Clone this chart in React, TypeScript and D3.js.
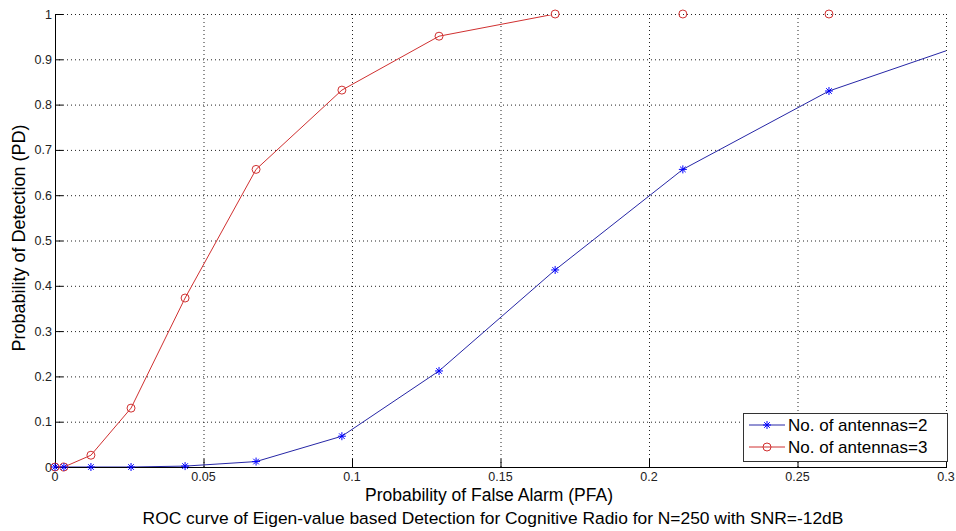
import React from "react";
import * as d3 from "d3";

// PFA values shared by both curves
const pfa = [0, 0.003, 0.0121, 0.0256, 0.0438, 0.0677, 0.0966, 0.1293, 0.1684, 0.2114, 0.2606, 0.325];
const pdTwo = [0, 0, 0, 0, 0.002, 0.012, 0.068, 0.212, 0.435, 0.657, 0.83, 0.975];
const pdThree = [0, 0, 0.026, 0.13, 0.373, 0.657, 0.832, 0.951, 1, 1, 1];

const xTicks = [0, 0.05, 0.1, 0.15, 0.2, 0.25, 0.3];
const yTicks = [0, 0.1, 0.2, 0.3, 0.4, 0.5, 0.6, 0.7, 0.8, 0.9, 1];
const legendLabels = ["No. of antennas=2", "No. of antennas=3"];

const W = 956;
const H = 531;
const m = { left: 55, right: 946, top: 14, bottom: 467 };
const font = "'Liberation Sans', Arial, Helvetica, sans-serif";

const blueLine = "#2626a6";
const blueMark = "#0000ff";
const redLine = "#d03030";

const App = () => {
  const x = d3.scaleLinear().domain([0, 0.3]).range([m.left, m.right]);
  const y = d3.scaleLinear().domain([0, 1]).range([m.bottom, m.top]);

  const seriesTwo = pdTwo.map((v, i) => [pfa[i], v] as [number, number]);
  const seriesThree = pdThree.map((v, i) => [pfa[i], v] as [number, number]);

  const line = d3
    .line<[number, number]>()
    .x((d) => x(d[0]))
    .y((d) => y(d[1]));

  const star = (cx: number, cy: number, key: string | number, r = 4) => (
    <g key={key} stroke={blueMark} strokeWidth={1}>
      <line x1={cx - r} y1={cy} x2={cx + r} y2={cy} />
      <line x1={cx} y1={cy - r} x2={cx} y2={cy + r} />
      <line x1={cx - r * 0.7} y1={cy - r * 0.7} x2={cx + r * 0.7} y2={cy + r * 0.7} />
      <line x1={cx - r * 0.7} y1={cy + r * 0.7} x2={cx + r * 0.7} y2={cy - r * 0.7} />
    </g>
  );

  const inView = (d: [number, number]) => d[0] <= 0.3;

  return (
    <svg
      width={W}
      height={H}
      style={{ position: "absolute", left: 0, top: 0, background: "#fff" }}
      fontFamily={font}
    >
      <defs>
        <clipPath id="plotClip">
          <rect x={m.left} y={m.top + 1} width={m.right - m.left} height={m.bottom - m.top - 1} />
        </clipPath>
      </defs>
      <rect x={0} y={0} width={W} height={H} fill="#fff" />

      {/* grid */}
      <g stroke="#222" strokeWidth={1} strokeDasharray="1,3">
        {xTicks.slice(1).map((t) => (
          <line key={"gx" + t} x1={x(t) + 0.5} x2={x(t) + 0.5} y1={m.top} y2={m.bottom} />
        ))}
        {yTicks.slice(1).map((t) => (
          <line key={"gy" + t} x1={m.left} x2={m.right} y1={y(t) + 0.5} y2={y(t) + 0.5} />
        ))}
      </g>

      {/* axes */}
      <g stroke="#000" strokeWidth={1}>
        <line x1={m.left + 0.5} x2={m.left + 0.5} y1={m.top} y2={m.bottom + 0.5} />
        <line x1={m.left} x2={m.right + 1} y1={m.bottom + 0.5} y2={m.bottom + 0.5} />
        {xTicks.map((t) => (
          <line key={"tx" + t} x1={x(t) + 0.5} x2={x(t) + 0.5} y1={m.bottom} y2={m.bottom - 8} />
        ))}
        {yTicks.map((t) => (
          <line key={"ty" + t} x1={m.left} x2={m.left + 8} y1={y(t) + 0.5} y2={y(t) + 0.5} />
        ))}
      </g>

      <g fontSize={12.5} fill="#222">
        {xTicks.map((t) => (
          <text key={"lx" + t} x={x(t)} y={m.bottom + 14} textAnchor="middle">
            {d3.format("~g")(t)}
          </text>
        ))}
        {yTicks.map((t) => (
          <text key={"ly" + t} x={m.left - 3} y={y(t) + 4.5} textAnchor="end">
            {d3.format("~g")(t)}
          </text>
        ))}
      </g>

      {/* curves */}
      <g clipPath="url(#plotClip)" fill="none" strokeWidth={1}>
        <path d={line(seriesTwo) || ""} stroke={blueLine} />
        <path d={line(seriesThree) || ""} stroke={redLine} />
      </g>
      {seriesThree.filter(inView).map((d, i) => (
        <circle key={"c" + i} cx={x(d[0])} cy={y(d[1])} r={4} fill="none" stroke={redLine} strokeWidth={1} />
      ))}
      {seriesTwo.filter(inView).map((d, i) => star(x(d[0]), y(d[1]), "s" + i))}

      {/* labels */}
      <text
        transform={`translate(25, 238) rotate(-90)`}
        textAnchor="middle"
        fontSize={18}
        fill="#000"
      >
        Probability of Detection (PD)
      </text>
      <text x={489} y={501} textAnchor="middle" fontSize={17.5} fill="#000">
        Probability of False Alarm (PFA)
      </text>
      <text x={493} y={524} textAnchor="middle" fontSize={17.4} fill="#000">
        ROC curve of Eigen-value based Detection for Cognitive Radio for N=250 with SNR=-12dB
      </text>

      {/* legend */}
      <g>
        <rect x={743.5} y={413.5} width={204} height={48} fill="#fff" stroke="#333" strokeWidth={1} />
        {legendLabels.map((lab, i) => {
          const cy = 425 + i * 22;
          return (
            <g key={lab}>
              <line x1={749} x2={785} y1={cy} y2={cy} stroke={i === 0 ? blueLine : redLine} strokeWidth={1} />
              {i === 0 ? (
                star(767, cy, "ls")
              ) : (
                <circle cx={767} cy={cy} r={4} fill="none" stroke={redLine} strokeWidth={1} />
              )}
              <text x={788} y={cy + 6} fontSize={17} fill="#000">
                {lab}
              </text>
            </g>
          );
        })}
      </g>
    </svg>
  );
};

export default App;
